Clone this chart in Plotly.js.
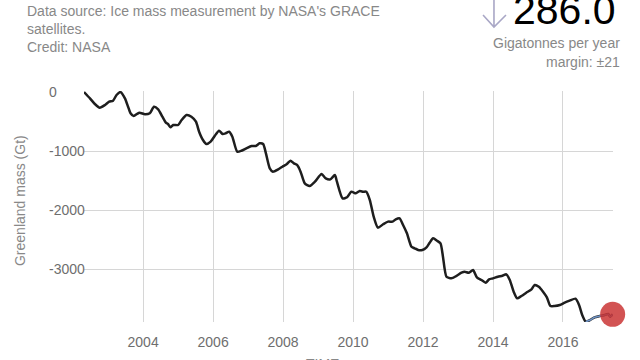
<!DOCTYPE html>
<html>
<head>
<meta charset="utf-8">
<script src="https://cdn.plot.ly/plotly-3.0.1.min.js"></script>
<style>
html,body{margin:0;padding:0;background:#fff;}
#chart{width:640px;height:360px;}
</style>
</head>
<body>
<div id="chart"></div>
<script>
const years = [2002.31,2002.48,2002.62,2002.76,2002.91,2003.03,2003.14,2003.24,2003.35,2003.48,
2003.57,2003.64,2003.73,2003.89,2004.05,2004.19,2004.31,2004.43,2004.55,2004.65,
2004.71,2004.78,2004.86,2005.00,2005.10,2005.24,2005.38,2005.51,2005.60,2005.71,
2005.81,2005.93,2006.05,2006.17,2006.27,2006.36,2006.46,2006.55,2006.69,2006.81,
2006.95,2007.10,2007.22,2007.33,2007.43,2007.51,2007.62,2007.71,2007.86,2007.98,
2008.11,2008.21,2008.31,2008.40,2008.50,2008.62,2008.76,2008.91,2009.10,2009.22,
2009.35,2009.48,2009.54,2009.70,2009.83,2009.95,2010.08,2010.19,2010.29,2010.38,
2010.48,2010.59,2010.71,2010.86,2011.00,2011.13,2011.22,2011.33,2011.43,2011.54,
2011.67,2011.76,2011.86,2011.98,2012.10,2012.19,2012.29,2012.40,2012.50,2012.57,
2012.67,2012.81,2012.95,2013.10,2013.19,2013.31,2013.43,2013.54,2013.67,2013.79,
2013.89,2014.00,2014.14,2014.27,2014.38,2014.48,2014.59,2014.69,2014.81,2014.95,
2015.10,2015.19,2015.31,2015.43,2015.54,2015.64,2015.76,2015.91,2016.05,2016.19,
2016.36,2016.46,2016.55,2016.65,2016.78,2016.90,2017.05,2017.19,2017.29,2017.35,2017.42];
// Greenland mass change (Gt)
const mass = [0,-107,-203,-266,-220,-164,-147,-51,0,-107,
-249,-361,-407,-350,-378,-361,-249,-293,-418,-520,
-542,-598,-559,-559,-475,-390,-418,-503,-673,-814,
-881,-840,-740,-655,-712,-700,-673,-757,-1011,-995,
-955,-915,-915,-870,-881,-1040,-1294,-1350,-1311,-1266,
-1220,-1164,-1209,-1237,-1350,-1548,-1593,-1520,-1390,-1463,
-1480,-1407,-1520,-1802,-1785,-1690,-1717,-1678,-1690,-1690,
-1831,-2113,-2299,-2242,-2197,-2197,-2158,-2141,-2254,-2395,
-2622,-2649,-2678,-2678,-2633,-2554,-2480,-2520,-2564,-2791,
-3130,-3158,-3119,-3063,-3046,-3063,-3017,-3141,-3186,-3232,
-3175,-3158,-3130,-3113,-3090,-3186,-3384,-3497,-3458,-3402,
-3345,-3271,-3300,-3384,-3480,-3627,-3627,-3610,-3570,-3537,
-3503,-3610,-3780,-3893,-3864,-3819,-3797,-3780,-3763,-3808,-3768];
const xTicks = [2004,2006,2008,2010,2012,2014,2016];
const xTickText = ["2004","2006","2008","2010","2012","2014","2016"];
const yTicks = [0,-1000,-2000,-3000];
const yTickText = ["0","-1000","-2000","-3000"];
const rateValue = "286.0";
const rateUnit = "Gigatonnes per year";
const rateMargin = "margin: ±21";

const n = years.length;
const tailStart = n - 8;

const traces = [
  {x: years, y: mass, type: 'scatter', mode: 'lines',
   line: {color: '#1e1e1e', width: 2.5, shape: 'spline', smoothing: 0.6},
   hoverinfo: 'skip'},
  {x: years.slice(tailStart), y: mass.slice(tailStart), type: 'scatter', mode: 'lines',
   line: {color: 'rgba(120,160,215,0.9)', width: 1.6, shape: 'spline', smoothing: 0.6},
   hoverinfo: 'skip'},
  {x: [years[n-1]], y: [mass[n-1]], type: 'scatter', mode: 'markers',
   marker: {color: 'rgba(200,45,45,0.82)', size: 25, line: {width: 0}},
   cliponaxis: false, hoverinfo: 'skip'}
];

const gray = '#7a7a7a';
const tickColor = '#6e6e6e';

// left-aligned y tick labels placed through the y scale
const yTickAnnots = yTicks.map((v, i) => ({
  xref: 'paper', yref: 'y', x: -0.07, y: v, xanchor: 'left', yanchor: 'middle',
  showarrow: false, text: yTickText[i], font: {size: 14, color: tickColor}
}));

const layout = {
  width: 640, height: 360,
  margin: {l: 84, r: 27, t: 91, b: 38},
  paper_bgcolor: '#fff', plot_bgcolor: '#fff',
  showlegend: false,
  font: {family: 'Liberation Sans, Arial, sans-serif', color: gray, size: 14},
  xaxis: {
    range: [2002.31, 2017.43], tickvals: xTicks, ticktext: xTickText,
    showgrid: true, gridcolor: '#d6d6d6', gridwidth: 1,
    zeroline: false, showline: false, ticks: '',
    ticklabelstandoff: 10,
    tickfont: {size: 14, color: tickColor}
  },
  yaxis: {
    range: [-3898, 17], tickvals: yTicks, ticktext: yTickText,
    showgrid: true, gridcolor: '#d6d6d6', gridwidth: 1,
    zeroline: false, showline: false, ticks: '', showticklabels: false
  },
  shapes: [
    // down-arrow icon next to the rate
    {type: 'path', xref: 'paper', yref: 'paper',
     path: 'M 0.7750 1.4026 L 0.7750 1.2771 M 0.7543 1.3290 L 0.7750 1.2771 L 0.7977 1.3290',
     line: {color: '#a9a7c6', width: 1.6}}
  ],
  annotations: yTickAnnots.concat([
    {xref: 'paper', yref: 'paper', x: -0.1115, y: 1.39, xanchor: 'left', yanchor: 'top',
     align: 'left', showarrow: false,
     text: "Data source: Ice mass measurement by NASA's GRACE<br>satellites.<br>Credit: NASA",
     font: {size: 14, color: '#888'}},
    {xref: 'paper', yref: 'paper', x: 1.0095, y: 1.35, xanchor: 'right', yanchor: 'middle',
     showarrow: false, text: rateValue, font: {size: 41, color: '#000'}},
    {xref: 'paper', yref: 'paper', x: 1.017, y: 1.208, xanchor: 'right', yanchor: 'middle',
     showarrow: false, text: rateUnit, font: {size: 14, color: '#888'}},
    {xref: 'paper', yref: 'paper', x: 1.017, y: 1.1255, xanchor: 'right', yanchor: 'middle',
     showarrow: false, text: rateMargin, font: {size: 14, color: '#888'}},
    {xref: 'paper', yref: 'paper', x: -0.121, y: 0.528, xanchor: 'center', yanchor: 'middle',
     textangle: -90, showarrow: false, text: 'Greenland mass (Gt)', font: {size: 14, color: '#888'}},
    {xref: 'paper', yref: 'paper', x: 0.45, y: -0.18, xanchor: 'center', yanchor: 'middle',
     showarrow: false, text: 'TIME', font: {size: 14, color: '#888'}}
  ])
};

Plotly.newPlot('chart', traces, layout, {displayModeBar: false, staticPlot: true});
</script>
</body>
</html>
